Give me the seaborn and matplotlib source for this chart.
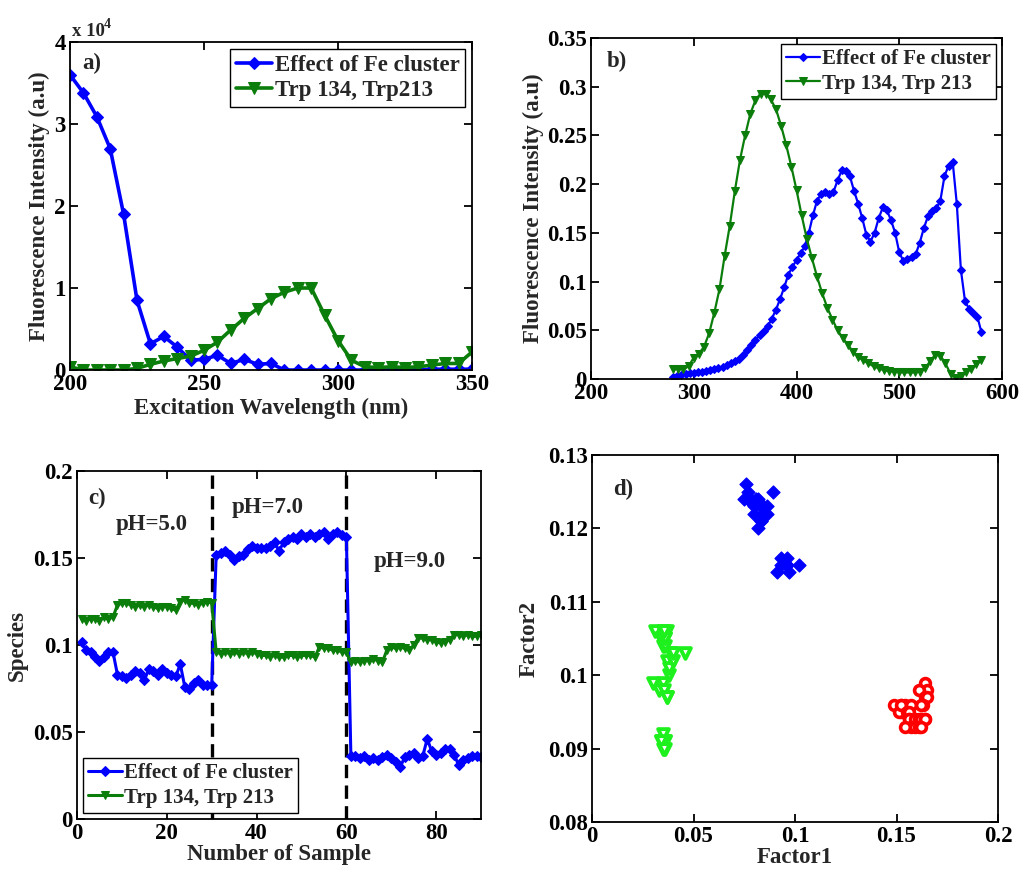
import numpy as np
import pandas as pd
import matplotlib
matplotlib.use("Agg")
import matplotlib.pyplot as plt
import seaborn as sns
from matplotlib.ticker import FuncFormatter, MultipleLocator

# ---------------- data ----------------
# a) excitation spectra (200-350 nm, 5 nm step), raw fluorescence counts
exc_wavelength = np.arange(200, 351, 5)
exc_fe_cluster = [36000, 33800, 30900, 27000, 19000, 8500, 3200, 4100, 2800, 1200,
                  1300, 1800, 800, 1300, 700, 800, 0, 0, 0, 0,
                  0, 0, 0, 0, 0, 0, 0, 100, 100, 100, 100]
exc_trp = [400, 0, 0, 0, 0, 200, 700, 1100, 1400, 1700,
           2400, 3400, 4900, 6300, 7500, 8700, 9500, 10000, 10000, 6700,
           3600, 1200, 400, 300, 400, 300, 400, 600, 800, 800, 2200]

# b) emission spectra (280-580 nm)
em_wavelength_fe = np.arange(280, 581, 4)
em_fe_cluster = [0.002, 0.003, 0.004, 0.005, 0.006, 0.006, 0.007, 0.007, 0.008, 0.009,
                 0.010, 0.011, 0.012, 0.014, 0.016, 0.018, 0.021, 0.025, 0.030, 0.035,
                 0.040, 0.045, 0.049, 0.054, 0.062, 0.071, 0.082, 0.094, 0.107, 0.115,
                 0.122, 0.129, 0.136, 0.150, 0.168, 0.183, 0.190, 0.192, 0.190, 0.192,
                 0.204, 0.214, 0.213, 0.208, 0.193, 0.180, 0.165, 0.148, 0.141, 0.150,
                 0.165, 0.176, 0.173, 0.163, 0.150, 0.130, 0.121, 0.123, 0.125, 0.128,
                 0.140, 0.155, 0.167, 0.172, 0.175, 0.183, 0.208, 0.219, 0.223, 0.180,
                 0.112, 0.080, 0.072, 0.068, 0.064, 0.048]
em_wavelength_trp = np.arange(280, 581, 5)
em_trp = [0.010, 0.010, 0.010, 0.013, 0.022, 0.026, 0.033, 0.047, 0.068, 0.092,
          0.126, 0.157, 0.193, 0.225, 0.250, 0.272, 0.286, 0.293, 0.293, 0.287,
          0.277, 0.260, 0.240, 0.218, 0.194, 0.168, 0.144, 0.124, 0.105, 0.088,
          0.073, 0.061, 0.050, 0.042, 0.035, 0.028, 0.023, 0.019, 0.016, 0.013,
          0.011, 0.009, 0.008, 0.0075, 0.007, 0.0067, 0.0067, 0.0067, 0.0075, 0.011,
          0.018, 0.025, 0.024, 0.016, 0.005, 0.001, 0.003, 0.007, 0.010, 0.015,
          0.019]

# c) species profiles over 90 samples (30 per pH)
sample_no = np.arange(1, 91)
species_fe = [0.102, 0.097, 0.096, 0.093, 0.091, 0.093, 0.096, 0.096, 0.083, 0.082,
              0.081, 0.083, 0.085, 0.084, 0.080, 0.086, 0.085, 0.083, 0.086, 0.084,
              0.083, 0.082, 0.089, 0.076, 0.075, 0.078, 0.080, 0.077, 0.077, 0.077,
              0.152, 0.153, 0.154, 0.152, 0.149, 0.151, 0.152, 0.155, 0.157, 0.156,
              0.156, 0.156, 0.157, 0.159, 0.154, 0.159, 0.161, 0.162, 0.161, 0.164,
              0.162, 0.164, 0.162, 0.164, 0.165, 0.161, 0.164, 0.165, 0.163, 0.162,
              0.036, 0.036, 0.035, 0.036, 0.034, 0.035, 0.034, 0.0355, 0.037, 0.035,
              0.033, 0.030, 0.0355, 0.037, 0.038, 0.035, 0.036, 0.046, 0.039, 0.037,
              0.038, 0.040, 0.040, 0.037, 0.031, 0.034, 0.035, 0.036, 0.036, 0.0355]
species_trp = [0.115, 0.114, 0.115, 0.115, 0.114, 0.116, 0.115, 0.116, 0.123, 0.124,
               0.124, 0.123, 0.122, 0.123, 0.122, 0.123, 0.122, 0.121, 0.122, 0.122,
               0.121, 0.120, 0.125, 0.126, 0.124, 0.124, 0.123, 0.124, 0.125, 0.124,
               0.096, 0.095, 0.096, 0.095, 0.096, 0.095, 0.096, 0.095, 0.096, 0.095,
               0.094, 0.094, 0.093, 0.094, 0.093, 0.093, 0.094, 0.094, 0.093, 0.094,
               0.094, 0.094, 0.093, 0.099, 0.098, 0.098, 0.097, 0.097, 0.096, 0.096,
               0.090, 0.091, 0.090, 0.091, 0.091, 0.092, 0.091, 0.090, 0.097, 0.099,
               0.098, 0.099, 0.098, 0.097, 0.100, 0.104, 0.104, 0.103, 0.103, 0.102,
               0.101, 0.102, 0.103, 0.106, 0.106, 0.105, 0.106, 0.105, 0.105, 0.106]
ph_levels = ["pH=5.0", "pH=7.0", "pH=9.0"]
ph_boundaries = [30, 60]

# ---------------- style ----------------
sns.set_style("ticks")
plt.rcParams["font.family"] = ["Liberation Serif", "DejaVu Serif"]
plt.rcParams["font.weight"] = "bold"
plt.rcParams["axes.labelweight"] = "bold"

FS = 16.5
LEG_FS = 15.5
BLUE = "#0000ff"
DGREEN = "#0b7d0b"
LIME = "#1ef01e"
RED = "#ff0000"

fig = plt.figure(figsize=(10.19, 8.75), dpi=100)
ax_a = fig.add_axes([0.0687, 0.5771, 0.3945, 0.3749])
ax_b = fig.add_axes([0.5800, 0.5669, 0.4033, 0.3897])
ax_c = fig.add_axes([0.0756, 0.0640, 0.3965, 0.3977])
ax_d = fig.add_axes([0.5810, 0.0606, 0.3984, 0.4194])

gfmt = FuncFormatter(lambda v, _: "%g" % round(v, 6))


def style(ax):
    ax.tick_params(direction="in", top=True, right=True, length=6, width=1.3,
                   labelsize=FS, pad=3, colors="black")
    for sp in ax.spines.values():
        sp.set_linewidth(1.3)
        sp.set_color("black")
    for lbl in ax.get_xticklabels() + ax.get_yticklabels():
        lbl.set_fontweight("bold")


def legend(ax, loc, size):
    leg = ax.legend(loc=loc, frameon=True, fancybox=False, edgecolor="black",
                    framealpha=1, prop={"size": size, "weight": "bold"},
                    handlelength=1.6, handletextpad=0.1, borderpad=0.25,
                    labelspacing=0.2, borderaxespad=0.3)
    leg.get_frame().set_linewidth(1.0)


def panel_tag(ax, tag, x, y):
    ax.text(x, y, tag, transform=ax.transAxes, fontsize=FS, fontweight="bold",
            ha="left", va="center")


# a) excitation
sns.lineplot(x=exc_wavelength, y=exc_fe_cluster, ax=ax_a, color=BLUE, marker="D",
             markersize=6, markeredgecolor=BLUE, linewidth=2.6,
             label="Effect of Fe cluster")
sns.lineplot(x=exc_wavelength, y=exc_trp, ax=ax_a, color=DGREEN, marker="v",
             markersize=8, markeredgecolor=DGREEN, linewidth=2.6,
             label="Trp 134, Trp213")
ax_a.set_xlim(200, 350)
ax_a.set_ylim(0, 40000)
ax_a.xaxis.set_major_locator(MultipleLocator(50))
ax_a.yaxis.set_major_locator(MultipleLocator(10000))
ax_a.yaxis.set_major_formatter(FuncFormatter(lambda v, _: "%g" % (v / 1e4)))
ax_a.set_xlabel("Excitation Wavelength (nm)", fontsize=FS, labelpad=2)
ax_a.set_ylabel("Fluorescence Intensity (a.u)", fontsize=FS, labelpad=3)
ax_a.text(0.005, 1.005, "x 10", transform=ax_a.transAxes, fontsize=13.5,
          fontweight="bold", ha="left", va="bottom")
ax_a.text(0.083, 1.035, "4", transform=ax_a.transAxes, fontsize=10,
          fontweight="bold", ha="left", va="bottom")
legend(ax_a, "upper right", FS)
panel_tag(ax_a, "a)", 0.03, 0.935)
style(ax_a)

# b) emission
sns.lineplot(x=em_wavelength_fe, y=em_fe_cluster, ax=ax_b, color=BLUE, marker="D",
             markersize=4.5, markeredgecolor=BLUE, linewidth=1.6,
             label="Effect of Fe cluster")
sns.lineplot(x=em_wavelength_trp, y=em_trp, ax=ax_b, color=DGREEN, marker="v",
             markersize=6, markeredgecolor=DGREEN, linewidth=1.6,
             label="Trp 134, Trp 213")
ax_b.set_xlim(200, 600)
ax_b.set_ylim(0, 0.35)
ax_b.xaxis.set_major_locator(MultipleLocator(100))
ax_b.yaxis.set_major_locator(MultipleLocator(0.05))
ax_b.yaxis.set_major_formatter(gfmt)
ax_b.set_xlabel("")
ax_b.set_ylabel("Fluorescence Intensity (a.u)", fontsize=FS, labelpad=2)
legend(ax_b, "upper right", 15)
panel_tag(ax_b, "b)", 0.037, 0.93)
style(ax_b)

# c) species vs sample
sns.lineplot(x=sample_no, y=species_fe, ax=ax_c, color=BLUE, marker="D",
             markersize=5, markeredgecolor=BLUE, linewidth=2.2,
             label="Effect of Fe cluster")
sns.lineplot(x=sample_no, y=species_trp, ax=ax_c, color=DGREEN, marker="v",
             markersize=6, markeredgecolor=DGREEN, linewidth=2.2,
             label="Trp 134, Trp 213")
for xb in ph_boundaries:
    ax_c.axvline(xb, color="black", linestyle=(0, (4, 2.2)), linewidth=2.4, zorder=1)
ax_c.text(16.7, 0.169, ph_levels[0], fontsize=FS, fontweight="bold", ha="center", va="center")
ax_c.text(42.5, 0.179, ph_levels[1], fontsize=FS, fontweight="bold", ha="center", va="center")
ax_c.text(74.0, 0.148, ph_levels[2], fontsize=FS, fontweight="bold", ha="center", va="center")
ax_c.set_xlim(0, 90)
ax_c.set_ylim(0, 0.2)
ax_c.xaxis.set_major_locator(MultipleLocator(20))
ax_c.yaxis.set_major_locator(MultipleLocator(0.05))
ax_c.yaxis.set_major_formatter(gfmt)
ax_c.set_xlabel("Number of Sample", fontsize=FS, labelpad=0)
ax_c.set_ylabel("Species", fontsize=FS, labelpad=4)
legend(ax_c, "lower left", 15)
panel_tag(ax_c, "c)", 0.027, 0.92)
style(ax_c)

# d) factor scores: Fe-cluster species vs Trp species, one group per pH
scores = pd.DataFrame({"Factor1": species_fe, "Factor2": species_trp,
                       "pH": np.repeat(ph_levels, 30)})
g5 = scores[scores["pH"] == ph_levels[0]]
g7 = scores[scores["pH"] == ph_levels[1]]
g9 = scores[scores["pH"] == ph_levels[2]]
sns.scatterplot(data=g5, x="Factor1", y="Factor2", ax=ax_d, marker="D", s=45,
                color=BLUE, edgecolor=BLUE, linewidth=0.8, legend=False)
sns.scatterplot(data=g7, x="Factor1", y="Factor2", ax=ax_d, marker="o", s=50,
                color="white", edgecolor=RED, linewidth=2.6, legend=False)
sns.scatterplot(data=g9, x="Factor1", y="Factor2", ax=ax_d, marker="v", s=60,
                color="white", edgecolor=LIME, linewidth=2.8, legend=False)
ax_d.set_xlim(0, 0.2)
ax_d.set_ylim(0.08, 0.13)
ax_d.xaxis.set_major_locator(MultipleLocator(0.05))
ax_d.yaxis.set_major_locator(MultipleLocator(0.01))
ax_d.xaxis.set_major_formatter(gfmt)
ax_d.yaxis.set_major_formatter(gfmt)
ax_d.set_xlabel("Factor1", fontsize=FS, labelpad=0)
ax_d.set_ylabel("Factor2", fontsize=FS, labelpad=6)
panel_tag(ax_d, "d)", 0.052, 0.905)
style(ax_d)

fig.savefig("out.png", dpi=100)
